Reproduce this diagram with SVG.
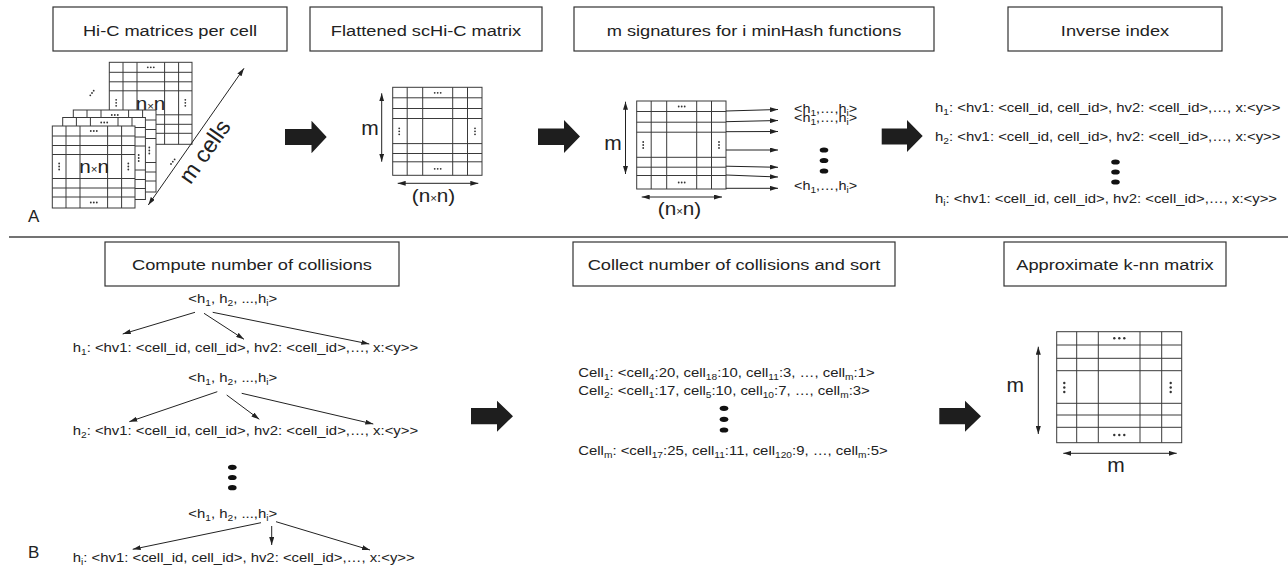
<svg xmlns="http://www.w3.org/2000/svg" xmlns:xlink="http://www.w3.org/1999/xlink" width="1288" height="571" viewBox="0 0 1288 571">
  <style>
    text { font-family: "Liberation Sans", Arial, Helvetica, sans-serif; fill: #222; }
    .box { fill: #fff; stroke: #333; stroke-width: 1.2; }
    .hdr { font-size: 15.2px; text-anchor: middle; }
    .t { font-size: 12.4px; }
    .sig { font-size: 12px; }
    .sb { font-size: 8.5px; }
    .dim { font-size: 18px; text-anchor: middle; }
    .mm { font-size: 21px; text-anchor: middle; }
    .lbl { font-size: 17px; }
    .cells { font-size: 23px; text-anchor: middle; }
    .grid { fill: #fff; stroke: #3a3a3a; stroke-width: 1; }
    .gl { fill: none; stroke: #3a3a3a; stroke-width: 1; }
    .d { fill: #333; }
    .bd { fill: #111; }
    .conn { fill: none; stroke: #222; stroke-width: 1; }
    .big { fill: #1e1e1e; }
  </style>
  <defs>
    <marker id="ah" viewBox="0 0 8 5" refX="8" refY="2.5" markerWidth="8" markerHeight="5" markerUnits="userSpaceOnUse" orient="auto-start-reverse">
      <path d="M0,0 L8,2.5 L0,5 z" fill="#222"/>
    </marker>
    <!-- small stacked matrix, one per cell -->
    <g id="mS">
      <rect class="grid" x="0" y="0" width="82.7" height="82"/>
      <path class="gl" d="M13.7 0V82M27.7 0V82M55.3 0V82M69.3 0V82M0 10H82.7M0 19.5H82.7M0 28.5H82.7M0 52.5H82.7M0 62H82.7M0 71H82.7"/>
      <g class="d">
        <circle cx="38.5" cy="5" r="0.9"/><circle cx="41.5" cy="5" r="0.9"/><circle cx="44.5" cy="5" r="0.9"/>
        <circle cx="38.5" cy="76.5" r="0.9"/><circle cx="41.5" cy="76.5" r="0.9"/><circle cx="44.5" cy="76.5" r="0.9"/>
        <circle cx="6.85" cy="37.5" r="0.9"/><circle cx="6.85" cy="40.5" r="0.9"/><circle cx="6.85" cy="43.5" r="0.9"/>
        <circle cx="76" cy="37.5" r="0.9"/><circle cx="76" cy="40.5" r="0.9"/><circle cx="76" cy="43.5" r="0.9"/>
      </g>
    </g>
    <!-- flattened m x (n x n) matrix -->
    <g id="mF">
      <rect class="grid" x="0" y="0" width="89.3" height="88"/>
      <path class="gl" d="M14.5 0V88M30 0V88M60 0V88M74.8 0V88M0 10.5H89.3M0 21.2H89.3M0 31.2H89.3M0 56.3H89.3M0 66.2H89.3M0 74.5H89.3"/>
      <g class="d">
        <circle cx="42" cy="5.5" r="0.9"/><circle cx="45" cy="5.5" r="0.9"/><circle cx="48" cy="5.5" r="0.9"/>
        <circle cx="42" cy="81.5" r="0.9"/><circle cx="45" cy="81.5" r="0.9"/><circle cx="48" cy="81.5" r="0.9"/>
        <circle cx="6.5" cy="41" r="0.9"/><circle cx="6.5" cy="44" r="0.9"/><circle cx="6.5" cy="47" r="0.9"/>
        <circle cx="82.3" cy="41" r="0.9"/><circle cx="82.3" cy="44" r="0.9"/><circle cx="82.3" cy="47" r="0.9"/>
      </g>
    </g>
  </defs>

  <rect x="0" y="0" width="1288" height="571" fill="#fff"/>

  <!-- panel separator -->
  <line x1="9" y1="237" x2="1288" y2="237" stroke="#444" stroke-width="1.3"/>

  <!-- step headers, panel A -->
  <g id="hdr-hic">
    <rect class="box" x="53" y="7" width="234" height="44"/>
    <text class="hdr" transform="matrix(1.2 0 0 1 170 35.5)">Hi-C matrices per cell</text>
  </g>
  <g id="hdr-flat">
    <rect class="box" x="310" y="7" width="232" height="44"/>
    <text class="hdr" transform="matrix(1.2 0 0 1 426 35.5)">Flattened scHi-C matrix</text>
  </g>
  <g id="hdr-sig">
    <rect class="box" x="574" y="7" width="360" height="44"/>
    <text class="hdr" transform="matrix(1.2 0 0 1 754 35.5)">m signatures for i minHash functions</text>
  </g>
  <g id="hdr-inv">
    <rect class="box" x="1008" y="7" width="214" height="44"/>
    <text class="hdr" transform="matrix(1.2 0 0 1 1115 35.5)">Inverse index</text>
  </g>

  <!-- step headers, panel B -->
  <g id="hdr-compute">
    <rect class="box" x="105" y="242" width="294" height="44"/>
    <text class="hdr" transform="matrix(1.2 0 0 1 252 270)">Compute number of collisions</text>
  </g>
  <g id="hdr-collect">
    <rect class="box" x="573" y="242" width="322" height="44"/>
    <text class="hdr" transform="matrix(1.2 0 0 1 734 270)">Collect number of collisions and sort</text>
  </g>
  <g id="hdr-knn">
    <rect class="box" x="1004" y="242" width="222" height="44"/>
    <text class="hdr" transform="matrix(1.2 0 0 1 1115 270)">Approximate k-nn matrix</text>
  </g>

  <!-- stack of per-cell Hi-C matrices -->
  <g id="hic-stack">
    <use xlink:href="#mS" href="#mS" x="109.3" y="62.3"/>
    <text class="dim" transform="matrix(1.15 0 0 1 150.5 110)">n<tspan font-size="10">×</tspan>n</text>
    <use xlink:href="#mS" href="#mS" x="73.3" y="110"/>
    <use xlink:href="#mS" href="#mS" x="62.7" y="117.5"/>
    <use xlink:href="#mS" href="#mS" x="52.3" y="126"/>
    <text class="dim" transform="matrix(1.15 0 0 1 94.2 173.3)">n<tspan font-size="10">×</tspan>n</text>
    <g class="d">
      <circle cx="90.3" cy="95.3" r="0.9"/><circle cx="92" cy="93" r="0.9"/><circle cx="93.7" cy="90.7" r="0.9"/>
      <circle cx="171" cy="164" r="0.9"/><circle cx="172.8" cy="161.7" r="0.9"/><circle cx="174.6" cy="159.4" r="0.9"/>
    </g>
    <text class="cells" transform="translate(211 156) rotate(-55)">m cells</text>
    <text class="lbl" x="28" y="221.5">A</text>
  </g>

  <!-- flattened matrix -->
  <g id="flat-matrix">
    <use xlink:href="#mF" href="#mF" x="392.7" y="87.3"/>
    <text class="mm" x="370" y="135">m</text>
    <text class="dim" transform="matrix(1.15 0 0 1 433.5 202)">(n<tspan font-size="10">×</tspan>n)</text>
  </g>

  <!-- minHash signatures -->
  <g id="sig-matrix">
    <use xlink:href="#mF" href="#mF" x="636.7" y="101"/>
    <text class="mm" x="613" y="150">m</text>
    <text class="dim" transform="matrix(1.15 0 0 1 679.5 215)">(n<tspan font-size="10">×</tspan>n)</text>
  </g>
  <g id="sig-labels">
    <text class="sig" transform="matrix(1.2 0 0 1 794 113)">&lt;h<tspan class="sb" dy="3">1</tspan><tspan dy="-3">,…,h</tspan><tspan class="sb" dy="3">i</tspan><tspan dy="-3">&gt;</tspan></text>
    <text class="sig" transform="matrix(1.2 0 0 1 794 122)">&lt;h<tspan class="sb" dy="3">1</tspan><tspan dy="-3">,…,h</tspan><tspan class="sb" dy="3">i</tspan><tspan dy="-3">&gt;</tspan></text>
    <g class="bd">
      <ellipse cx="824" cy="150" rx="4.3" ry="2.6"/>
      <ellipse cx="824" cy="160.5" rx="4.3" ry="2.6"/>
      <ellipse cx="824" cy="171" rx="4.3" ry="2.6"/>
    </g>
    <text class="sig" transform="matrix(1.2 0 0 1 794 190)">&lt;h<tspan class="sb" dy="3">1</tspan><tspan dy="-3">,…,h</tspan><tspan class="sb" dy="3">i</tspan><tspan dy="-3">&gt;</tspan></text>
  </g>

  <!-- inverse index entries -->
  <g id="inverse-index">
    <text class="t" transform="matrix(1.2 0 0 1 935 112)">h<tspan class="sb" dy="3">1</tspan><tspan dy="-3">: &lt;hv1: &lt;cell_id, cell_id&gt;, hv2: &lt;cell_id&gt;,…, x:&lt;y&gt;&gt;</tspan></text>
    <text class="t" transform="matrix(1.2 0 0 1 935 141)">h<tspan class="sb" dy="3">2</tspan><tspan dy="-3">: &lt;hv1: &lt;cell_id, cell_id&gt;, hv2: &lt;cell_id&gt;,…, x:&lt;y&gt;&gt;</tspan></text>
    <g class="bd">
      <ellipse cx="1115.5" cy="162" rx="4.3" ry="2.6"/>
      <ellipse cx="1115.5" cy="172" rx="4.3" ry="2.6"/>
      <ellipse cx="1115.5" cy="182" rx="4.3" ry="2.6"/>
    </g>
    <text class="t" transform="matrix(1.2 0 0 1 935 203)">h<tspan class="sb" dy="3">i</tspan><tspan dy="-3">: &lt;hv1: &lt;cell_id, cell_id&gt;, hv2: &lt;cell_id&gt;,…, x:&lt;y&gt;&gt;</tspan></text>
  </g>

  <!-- collision counting per hash function -->
  <g id="compute-collisions">
    <text class="t" transform="matrix(1.2 0 0 1 188.3 303.3)">&lt;h<tspan class="sb" dy="3">1</tspan><tspan dy="-3">, h</tspan><tspan class="sb" dy="3">2</tspan><tspan dy="-3">, ...,h</tspan><tspan class="sb" dy="3">i</tspan><tspan dy="-3">&gt;</tspan></text>
    <text class="t" transform="matrix(1.2 0 0 1 72.7 351.7)">h<tspan class="sb" dy="3">1</tspan><tspan dy="-3">: &lt;hv1: &lt;cell_id, cell_id&gt;, hv2: &lt;cell_id&gt;,…, x:&lt;y&gt;&gt;</tspan></text>
    <text class="t" transform="matrix(1.2 0 0 1 188.3 381.7)">&lt;h<tspan class="sb" dy="3">1</tspan><tspan dy="-3">, h</tspan><tspan class="sb" dy="3">2</tspan><tspan dy="-3">, ...,h</tspan><tspan class="sb" dy="3">i</tspan><tspan dy="-3">&gt;</tspan></text>
    <text class="t" transform="matrix(1.2 0 0 1 72.7 435)">h<tspan class="sb" dy="3">2</tspan><tspan dy="-3">: &lt;hv1: &lt;cell_id, cell_id&gt;, hv2: &lt;cell_id&gt;,…, x:&lt;y&gt;&gt;</tspan></text>
    <g class="bd">
      <ellipse cx="232.3" cy="467.3" rx="4.3" ry="2.6"/>
      <ellipse cx="232.3" cy="477.5" rx="4.3" ry="2.6"/>
      <ellipse cx="232.3" cy="487.7" rx="4.3" ry="2.6"/>
    </g>
    <text class="t" transform="matrix(1.2 0 0 1 188.3 518.3)">&lt;h<tspan class="sb" dy="3">1</tspan><tspan dy="-3">, h</tspan><tspan class="sb" dy="3">2</tspan><tspan dy="-3">, ...,h</tspan><tspan class="sb" dy="3">i</tspan><tspan dy="-3">&gt;</tspan></text>
    <text class="t" transform="matrix(1.2 0 0 1 72.7 561.7)">h<tspan class="sb" dy="3">i</tspan><tspan dy="-3">: &lt;hv1: &lt;cell_id, cell_id&gt;, hv2: &lt;cell_id&gt;,…, x:&lt;y&gt;&gt;</tspan></text>
    <text class="lbl" x="28" y="558">B</text>
  </g>

  <!-- sorted collision counts per cell -->
  <g id="collect-sort">
    <text class="t" transform="matrix(1.2 0 0 1 578.3 376.7)">Cell<tspan class="sb" dy="3">1</tspan><tspan dy="-3">: &lt;cell</tspan><tspan class="sb" dy="3">4</tspan><tspan dy="-3">:20, cell</tspan><tspan class="sb" dy="3">18</tspan><tspan dy="-3">:10, cell</tspan><tspan class="sb" dy="3">11</tspan><tspan dy="-3">:3, …, cell</tspan><tspan class="sb" dy="3">m</tspan><tspan dy="-3">:1&gt;</tspan></text>
    <text class="t" transform="matrix(1.2 0 0 1 578.3 395)">Cell<tspan class="sb" dy="3">2</tspan><tspan dy="-3">: &lt;cell</tspan><tspan class="sb" dy="3">1</tspan><tspan dy="-3">:17, cell</tspan><tspan class="sb" dy="3">5</tspan><tspan dy="-3">:10, cell</tspan><tspan class="sb" dy="3">10</tspan><tspan dy="-3">:7, …, cell</tspan><tspan class="sb" dy="3">m</tspan><tspan dy="-3">:3&gt;</tspan></text>
    <g class="bd">
      <ellipse cx="724" cy="408.3" rx="4.3" ry="2.6"/>
      <ellipse cx="724" cy="419.3" rx="4.3" ry="2.6"/>
      <ellipse cx="724" cy="430" rx="4.3" ry="2.6"/>
    </g>
    <text class="t" transform="matrix(1.2 0 0 1 578.3 455)">Cell<tspan class="sb" dy="3">m</tspan><tspan dy="-3">: &lt;cell</tspan><tspan class="sb" dy="3">17</tspan><tspan dy="-3">:25, cell</tspan><tspan class="sb" dy="3">11</tspan><tspan dy="-3">:11, cell</tspan><tspan class="sb" dy="3">120</tspan><tspan dy="-3">:9, …, cell</tspan><tspan class="sb" dy="3">m</tspan><tspan dy="-3">:5&gt;</tspan></text>
  </g>

  <!-- approximate k-nn matrix -->
  <g id="knn-matrix">
    <rect class="grid" x="1056.7" y="331.7" width="125" height="111"/>
    <path class="gl" d="M1076.7 331.7V442.7M1098.3 331.7V442.7M1140 331.7V442.7M1161.7 331.7V442.7M1056.7 345H1181.7M1056.7 358.3H1181.7M1056.7 370.7H1181.7M1056.7 403.3H1181.7M1056.7 415H1181.7M1056.7 427.3H1181.7"/>
    <g class="d">
      <circle cx="1114.3" cy="338.3" r="1.2"/><circle cx="1119.3" cy="338.3" r="1.2"/><circle cx="1124.3" cy="338.3" r="1.2"/>
      <circle cx="1114.3" cy="435" r="1.2"/><circle cx="1119.3" cy="435" r="1.2"/><circle cx="1124.3" cy="435" r="1.2"/>
      <circle cx="1064.3" cy="383" r="1.2"/><circle cx="1064.3" cy="387.5" r="1.2"/><circle cx="1064.3" cy="392" r="1.2"/>
      <circle cx="1170.7" cy="383" r="1.2"/><circle cx="1170.7" cy="387.5" r="1.2"/><circle cx="1170.7" cy="392" r="1.2"/>
    </g>
    <text class="mm" x="1015.3" y="392">m</text>
    <text class="mm" x="1116" y="472">m</text>
  </g>

  <!-- connectors -->
  <g id="connectors">
    <!-- dimension arrows -->
    <g class="conn" marker-start="url(#ah)" marker-end="url(#ah)">
      <line x1="148.3" y1="205" x2="244" y2="68.3"/>
      <line x1="381.7" y1="93.3" x2="381.7" y2="161.7"/>
      <line x1="397.7" y1="183.3" x2="478.3" y2="183.3"/>
      <line x1="625.5" y1="101.7" x2="625.5" y2="174"/>
      <line x1="641.7" y1="197" x2="722" y2="197"/>
      <line x1="1038.3" y1="346.7" x2="1038.3" y2="434"/>
      <line x1="1063.3" y1="453.3" x2="1176.7" y2="453.3"/>
    </g>
    <!-- row signatures -->
    <g class="conn" marker-end="url(#ah)">
      <line x1="726" y1="111" x2="778" y2="109.5"/>
      <line x1="726" y1="121.7" x2="778" y2="120.5"/>
      <line x1="726" y1="131.7" x2="778" y2="131.5"/>
      <line x1="726" y1="150" x2="778" y2="150"/>
      <line x1="726" y1="166.2" x2="778" y2="167.3"/>
      <line x1="726" y1="175" x2="778" y2="177"/>
      <line x1="726" y1="188.3" x2="778" y2="188.3"/>
    </g>
    <!-- hash tuple to bucket entries -->
    <g class="conn" marker-end="url(#ah)">
      <line x1="195" y1="312.3" x2="122.7" y2="334"/>
      <line x1="204" y1="313.3" x2="244" y2="339.3"/>
      <line x1="212.7" y1="312.3" x2="369.3" y2="344"/>
      <line x1="217.3" y1="391.7" x2="129.3" y2="421.7"/>
      <line x1="226.7" y1="395" x2="259.3" y2="419.3"/>
      <line x1="241.7" y1="393.3" x2="373.3" y2="424"/>
      <line x1="261" y1="522.7" x2="132.7" y2="549.3"/>
      <line x1="271.7" y1="526" x2="271.7" y2="545"/>
      <line x1="276" y1="521.7" x2="370" y2="550"/>
    </g>
    <!-- step arrows -->
    <g class="big">
      <polygon points="285,129 311.5,129 311.5,120.7 326.7,137 311.5,153.3 311.5,145 285,145"/>
      <polygon points="538,128.5 564,128.5 564,120 580,136.5 564,153 564,145 538,145"/>
      <polygon points="881.7,128.5 907,128.5 907,120 922.7,136 907,152 907,144.5 881.7,144.5"/>
      <polygon points="471,408 497,408 497,400.7 513,416.2 497,431.7 497,424.3 471,424.3"/>
      <polygon points="939.3,408 965,408 965,400.7 981,416.2 965,431.7 965,424.3 939.3,424.3"/>
    </g>
  </g>
</svg>
